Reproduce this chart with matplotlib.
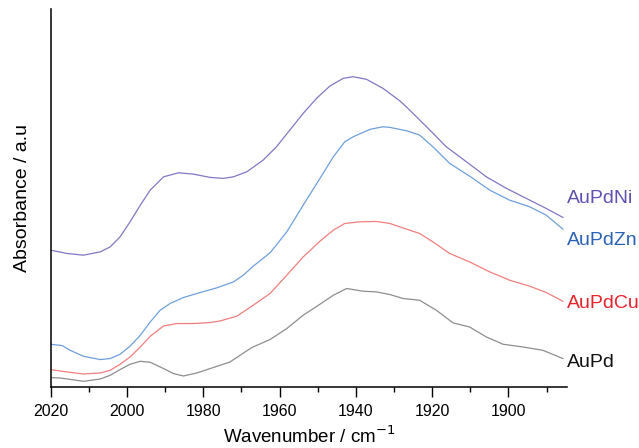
import matplotlib
matplotlib.use("Agg")
import matplotlib.pyplot as plt
import matplotlib.transforms as mtransforms
from matplotlib.ticker import MultipleLocator

plt.rcParams['font.family'] = ['Liberation Sans', 'DejaVu Sans']

# Wavenumber (cm^-1) and absorbance (arbitrary units)
wn_ni = [2020.0, 2015.7, 2011.4, 2007.0, 2004.4, 2001.8, 1999.2, 1996.5, 1993.9, 1990.4,
         1986.5, 1982.6, 1978.2, 1974.7, 1972.1, 1968.6, 1964.3, 1960.8, 1957.3, 1953.8,
         1950.3, 1946.8, 1943.3, 1940.7, 1937.2, 1932.9, 1928.5, 1925.9, 1920.6, 1916.3,
         1911.0, 1905.8, 1900.5, 1895.3, 1890.1, 1885.7]
ab_ni = [1.370, 1.337, 1.320, 1.353, 1.403, 1.503, 1.653, 1.820, 1.970, 2.103,
         2.143, 2.130, 2.097, 2.087, 2.103, 2.153, 2.270, 2.403, 2.570, 2.737,
         2.887, 3.010, 3.087, 3.103, 3.077, 2.987, 2.863, 2.770, 2.570, 2.403,
         2.253, 2.103, 1.987, 1.887, 1.787, 1.697]

wn_zn = [2020.0, 2017.0, 2014.9, 2011.4, 2007.0, 2004.4, 2001.8, 1999.2, 1996.5, 1993.9,
         1991.3, 1988.7, 1985.2, 1980.8, 1976.5, 1972.1, 1969.5, 1966.9, 1962.5, 1958.1,
         1953.8, 1949.4, 1945.9, 1942.9, 1940.7, 1936.3, 1932.9, 1931.1, 1926.7, 1923.3,
         1919.8, 1915.4, 1910.2, 1904.9, 1899.7, 1894.4, 1890.1, 1885.7]
ab_zn = [0.430, 0.417, 0.370, 0.310, 0.277, 0.287, 0.330, 0.410, 0.520, 0.653,
         0.770, 0.837, 0.897, 0.947, 0.993, 1.053, 1.120, 1.210, 1.343, 1.553,
         1.820, 2.087, 2.303, 2.453, 2.503, 2.577, 2.603, 2.597, 2.563, 2.520,
         2.403, 2.237, 2.110, 1.970, 1.870, 1.803, 1.720, 1.580]

wn_cu = [2020.0, 2015.7, 2011.4, 2007.0, 2004.4, 2001.8, 1999.2, 1996.5, 1993.9, 1990.4,
         1986.9, 1982.6, 1978.2, 1975.6, 1971.2, 1966.9, 1962.5, 1958.1, 1953.8, 1949.4,
         1945.9, 1942.9, 1939.0, 1934.6, 1931.1, 1928.5, 1923.3, 1919.8, 1915.4, 1910.2,
         1904.9, 1899.7, 1894.4, 1890.1, 1885.7]
ab_cu = [0.177, 0.153, 0.133, 0.143, 0.170, 0.230, 0.303, 0.403, 0.510, 0.613,
         0.637, 0.637, 0.647, 0.663, 0.710, 0.820, 0.937, 1.120, 1.303, 1.460,
         1.570, 1.637, 1.653, 1.657, 1.637, 1.603, 1.537, 1.453, 1.337, 1.253,
         1.153, 1.070, 1.010, 0.947, 0.860]

wn_pd = [2020.0, 2017.5, 2011.4, 2007.0, 2004.4, 2001.8, 1999.2, 1996.5, 1993.9, 1990.4,
         1987.8, 1985.2, 1981.7, 1977.4, 1973.0, 1967.3, 1962.5, 1958.1, 1953.8, 1949.4,
         1945.9, 1942.4, 1938.1, 1934.6, 1931.1, 1927.6, 1923.3, 1918.9, 1914.5, 1910.2,
         1905.8, 1901.4, 1896.2, 1891.0, 1885.7]
ab_pd = [0.097, 0.093, 0.060, 0.083, 0.120, 0.177, 0.230, 0.260, 0.250, 0.187,
         0.137, 0.113, 0.143, 0.197, 0.253, 0.397, 0.477, 0.587, 0.720, 0.830,
         0.920, 0.987, 0.960, 0.953, 0.927, 0.887, 0.870, 0.770, 0.643, 0.603,
         0.503, 0.430, 0.403, 0.370, 0.287]

names = ['AuPdNi', 'AuPdZn', 'AuPdCu', 'AuPd']
label_y = [1.89, 1.47, 0.84, 0.25]

series = [(wn_ni, ab_ni), (wn_zn, ab_zn), (wn_cu, ab_cu), (wn_pd, ab_pd)]
line_colors = ['#8575c4', '#6f9fdc', '#f07f7f', '#8e8e8e']
text_colors = ['#6050b0', '#2a62b6', '#e8232b', '#111111']

fig = plt.figure(figsize=(6.39, 4.48), dpi=100)
ax = fig.add_axes([0.0793, 0.1355, 0.8077, 0.8445])

for (x, y), c in zip(series, line_colors):
    ax.plot(x, y, color=c, lw=0.9, solid_joinstyle='round')

ax.set_xlim(2020, 1884.7)
ax.set_ylim(0, 3.78)

ax.xaxis.set_major_locator(MultipleLocator(20))
ax.xaxis.set_minor_locator(MultipleLocator(10))
ax.set_yticks([])
ax.tick_params(axis='x', which='major', direction='out', length=7, width=1, labelsize=11.5, pad=5)
ax.tick_params(axis='x', which='minor', direction='out', length=3.5, width=1)
for s in ['top', 'right']:
    ax.spines[s].set_visible(False)
for s in ['left', 'bottom']:
    ax.spines[s].set_linewidth(1.1)

ax.set_xlabel('Wavenumber / cm$^{-1}$', fontsize=13.5, labelpad=5)
ax.set_ylabel('Absorbance / a.u', fontsize=14, labelpad=14)

trans = mtransforms.blended_transform_factory(ax.transAxes, ax.transData)
for n, yy, c in zip(names, label_y, text_colors):
    ax.text(1.0, yy, n, transform=trans, color=c, fontsize=14,
            ha='left', va='center', clip_on=False)

fig.savefig('out.png', dpi=100)
